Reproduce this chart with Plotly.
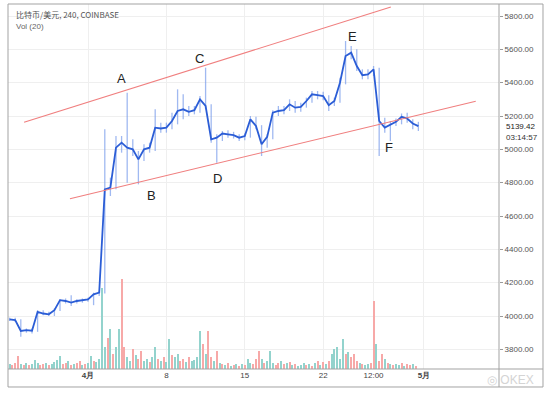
import pandas as pd
import plotly.graph_objects as go

# ---------------- data ----------------
# 12h sampled prices (close / high / low), starting 2019-03-25 00:00
price_start = "2019-03-25 00:00"
price_close = [3980, 3975, 3910, 3915, 3912, 4025, 4015, 4010, 4035, 4095,
               4090, 4080, 4090, 4095, 4100, 4130, 4140, 4760, 4770, 5010,
               5040, 5010, 5000, 4940, 5000, 5010, 5130, 5125, 5130, 5170,
               5230, 5240, 5225, 5235, 5300, 5260, 5060, 5070, 5095, 5090,
               5085, 5070, 5080, 5180, 5140, 5030, 5075, 5220, 5230, 5235,
               5270, 5250, 5255, 5290, 5330, 5325, 5320, 5265, 5290, 5400,
               5560, 5580, 5500, 5445, 5450, 5480, 5170, 5130, 5150, 5165,
               5195, 5185, 5155, 5139.42]
price_high = [3990, 3990, 3980, 3925, 3925, 4035, 4035, 4025, 4045, 4100,
              4105, 4125, 4100, 4105, 4110, 4140, 4150, 5120, 4830, 5080,
              5080, 5340, 5060, 4990, 5030, 5040, 5240, 5160, 5160, 5220,
              5360, 5330, 5260, 5260, 5320, 5490, 5270, 5090, 5110, 5115,
              5105, 5090, 5095, 5200, 5195, 5145, 5090, 5235, 5260, 5260,
              5300, 5290, 5280, 5310, 5350, 5350, 5345, 5325, 5310, 5430,
              5650, 5620, 5600, 5480, 5480, 5500, 5490, 5190, 5170, 5185,
              5215, 5220, 5180, 5165]
price_low = [3970, 3965, 3875, 3900, 3895, 3905, 4005, 4000, 4000, 4030,
             4075, 4060, 4075, 4080, 4085, 4065, 4120, 4135, 4720, 4760,
             4980, 4800, 4960, 4790, 4930, 4980, 4990, 5100, 5100, 5120,
             5150, 5180, 5200, 5210, 5220, 5240, 5040, 4920, 5050, 5070,
             5065, 5050, 5055, 5070, 5120, 4960, 5010, 5060, 5200, 5210,
             5230, 5220, 5225, 5250, 5280, 5300, 5295, 5230, 5260, 5280,
             5390, 5540, 5470, 5420, 5420, 5440, 4960, 5100, 5050, 5140,
             5150, 5160, 5120, 5110]

# 6h volume bars, starting 2019-03-25 00:00 ; up = candle closed higher
vol_start = "2019-03-25 00:00"
volume = [500, 400, 600, 1300, 500, 400, 600, 400, 500, 900,
          600, 400, 500, 600, 400, 500, 700, 900, 1300, 500,
          600, 800, 400, 500, 600, 800, 400, 500, 600, 1300,
          800, 700, 1000, 8100, 2200, 3100, 4000, 1500, 2200, 4000,
          9000, 2200, 1200, 800, 2000, 1400, 1000, 1800, 800, 1000,
          700, 1200, 2200, 1000, 800, 1200, 700, 3000, 1400, 1200,
          1500, 800, 1000, 700, 1200, 800, 900, 1200, 3800, 2500,
          1500, 3800, 1200, 800, 1800, 600, 500, 400, 600, 300,
          400, 500, 300, 500, 400, 1000, 600, 500, 1000, 1800,
          1000, 600, 800, 1800, 600, 400, 600, 800, 500, 600,
          700, 400, 500, 300, 400, 600, 400, 500, 300, 600,
          800, 400, 700, 500, 800, 1500, 2000, 2200, 1000, 3000,
          1500, 1700, 1200, 1500, 800, 600, 500, 400, 500, 600,
          6800, 2500, 800, 1500, 1000, 600, 500, 400, 500, 400,
          600, 300, 500, 400, 500, 300]
vol_up = [1, 0, 0, 0, 1, 0, 1, 0, 1, 1,
          1, 0, 0, 1, 0, 1, 1, 1, 1, 0,
          0, 1, 0, 1, 0, 0, 1, 0, 1, 1,
          0, 1, 1, 1, 1, 0, 1, 0, 1, 1,
          0, 0, 1, 1, 0, 1, 0, 0, 1, 1,
          0, 1, 1, 0, 1, 0, 1, 1, 0, 1,
          1, 0, 0, 1, 0, 1, 1, 1, 1, 0,
          1, 0, 0, 1, 0, 1, 0, 1, 0, 1,
          0, 1, 0, 1, 0, 1, 1, 0, 0, 0,
          1, 0, 1, 1, 1, 0, 0, 1, 0, 1,
          0, 1, 0, 1, 1, 1, 0, 1, 0, 1,
          0, 1, 0, 1, 0, 1, 1, 1, 1, 1,
          0, 1, 0, 0, 0, 1, 0, 1, 1, 0,
          0, 1, 0, 0, 1, 0, 1, 0, 1, 1,
          0, 1, 0, 0, 1, 0]

# channel lines (time, price)
upper_x = ["2019-03-26 07:00", "2019-04-28 01:00"]
upper_y = [5162, 5854]
lower_x = ["2019-03-30 09:20", "2019-05-05 15:00"]
lower_y = [4704, 5288]

# point labels
labels = ["A", "B", "C", "D", "E", "F"]
label_x = ["2019-04-03 22:45", "2019-04-06 17:00", "2019-04-11 00:00",
           "2019-04-12 12:30", "2019-04-24 15:50", "2019-04-27 21:00"]
label_y = [5428, 4726, 5548, 4828, 5680, 5014]

tick_dates = ["2019-04-01", "2019-04-08", "2019-04-15", "2019-04-22",
              "2019-04-26 12:00", "2019-05-01"]
tick_text = ["<b>4月</b>", "8", "15", "22", "12:00", "<b>5月</b>"]
price_ticks = [3800, 4000, 4200, 4400, 4600, 4800, 5000, 5200, 5400, 5600, 5800]
last_price = 5139.42
countdown = "03:14:57"

# ---------------- figure ----------------
px_t = pd.date_range(price_start, periods=len(price_close), freq="12h")
vol_t = pd.date_range(vol_start, periods=len(volume), freq="6h")

UP = "rgb(147,211,205)"
DN = "rgb(247,169,168)"

fig = go.Figure()
fig.add_trace(go.Bar(
    x=vol_t, y=volume, yaxis="y",
    marker=dict(color=[UP if u else DN for u in vol_up], line=dict(width=0)),
    width=6 * 3600 * 1000 * 0.72, hoverinfo="skip", showlegend=False))

fig.add_trace(go.Scatter(
    x=px_t, y=price_close, yaxis="y2", mode="lines",
    line=dict(color="#2b5dd6", width=1.8),
    error_y=dict(type="data", symmetric=False,
                 array=[h - c for h, c in zip(price_high, price_close)],
                 arrayminus=[c - l for c, l in zip(price_close, price_low)],
                 color="rgba(120,155,235,0.7)", thickness=1.3, width=0),
    showlegend=False))

for xs, ys in ((upper_x, upper_y), (lower_x, lower_y)):
    fig.add_trace(go.Scatter(x=xs, y=ys, yaxis="y2", mode="lines",
                             line=dict(color="#f07f7f", width=1.1),
                             showlegend=False))

annotations = []
for t, xx, yy in zip(labels, label_x, label_y):
    annotations.append(dict(x=xx, y=yy, xref="x", yref="y2", text=t,
                            showarrow=False,
                            font=dict(size=13, color="#222",
                                      family="Liberation Sans, Arial")))
annotations += [
    dict(x=0.012, y=0.97, xref="paper", yref="paper", xanchor="left",
         yanchor="middle", text="比特币/美元, 240, COINBASE", showarrow=False,
         font=dict(size=8, color="#555", family="Noto Sans CJK SC")),
    dict(x=0.012, y=0.937, xref="paper", yref="paper", xanchor="left",
         yanchor="middle", text="Vol (20)", showarrow=False,
         font=dict(size=8, color="#666", family="Liberation Sans")),
    dict(x=1.01, y=last_price, xref="paper", yref="y2", xanchor="left",
         yanchor="middle", text=f"{last_price:.2f}", showarrow=False,
         font=dict(size=8, color="#222", family="Liberation Sans")),
    dict(x=1.01, y=last_price, xref="paper", yref="y2", xanchor="left",
         yanchor="middle", yshift=-11, text=countdown, showarrow=False,
         font=dict(size=8, color="#333", family="Liberation Sans")),
    dict(x=1.075, y=-0.03, xref="paper", yref="paper", xanchor="right",
         yanchor="middle", text="◎ OKEX", showarrow=False,
         font=dict(size=12, color="#d4d4d4", family="Liberation Sans")),
]

frame = "#a3a3a3"
shapes = [
    dict(type="rect", xref="paper", yref="paper", x0=0, x1=1.0896,
         y0=-0.0493, y1=1, line=dict(color=frame, width=1)),
    dict(type="line", xref="paper", yref="paper", x0=1, x1=1,
         y0=-0.0493, y1=1, line=dict(color=frame, width=1)),
    dict(type="line", xref="paper", yref="paper", x0=0, x1=1.0896,
         y0=0, y1=0, line=dict(color=frame, width=1)),
]

fig.update_layout(
    width=545, height=393, autosize=False,
    margin=dict(l=8, r=46, t=4, b=24, autoexpand=False),
    paper_bgcolor="white", plot_bgcolor="white",
    bargap=0, showlegend=False,
    font=dict(family="Liberation Sans, Arial", size=8, color="#555"),
    xaxis=dict(type="date",
               range=["2019-03-24 20:34", "2019-05-07 16:48"],
               tickvals=tick_dates, ticktext=tick_text,
               showgrid=True, gridcolor="#efefef", gridwidth=1,
               zeroline=False, showline=False, ticks="",
               tickfont=dict(size=8, color="#444")),
    yaxis=dict(range=[0, 36500], visible=False, showgrid=False,
               fixedrange=True),
    yaxis2=dict(overlaying="y", side="right", range=[3682, 5872],
                tickvals=price_ticks, tickformat=".2f",
                showgrid=True, gridcolor="#efefef", zeroline=False,
                ticks="outside", ticklen=3, tickcolor="#999",
                tickfont=dict(size=8, color="#555"), showline=False),
    annotations=annotations,
    shapes=shapes,
)

fig.write_html("out.html",
               config={"displayModeBar": False},
               post_script="document.body.style.margin='0';"
                           "document.body.style.overflow='hidden';")
